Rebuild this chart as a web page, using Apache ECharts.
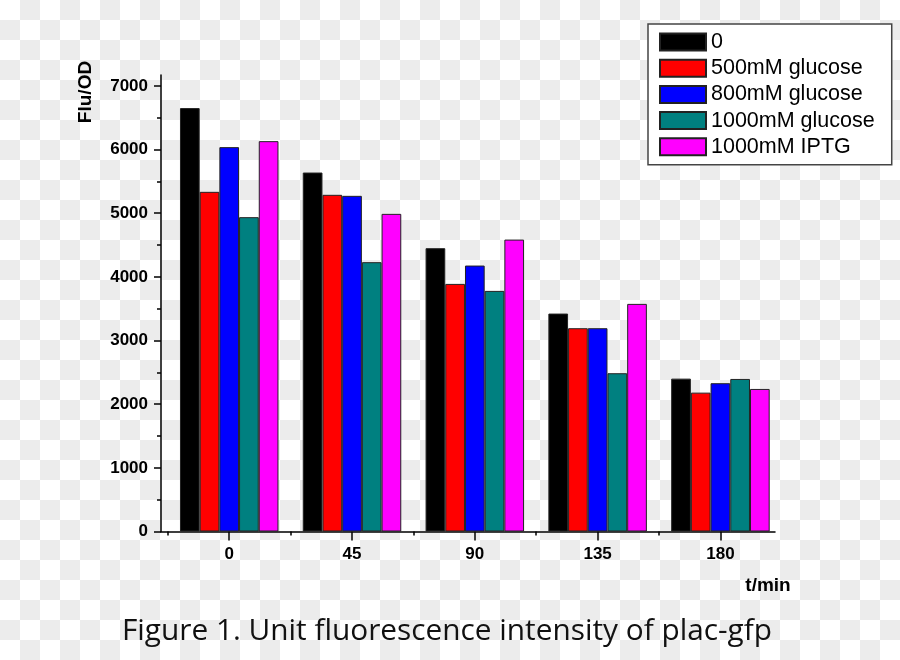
<!DOCTYPE html>
<html>
<head>
<meta charset="utf-8">
<script src="https://cdn.jsdelivr.net/npm/echarts@6/dist/echarts.min.js"></script>
<style>
html,body{margin:0;padding:0;}
body{width:900px;height:660px;background:repeating-conic-gradient(#ececec 0% 25%, #ffffff 0% 50%) 0 0/40px 40px;}
#chart{width:900px;height:660px;}
</style>
</head>
<body>
<div id="chart"></div>
<script>
const timePoints = [0, 45, 90, 135, 180];
const seriesNames = ['0', '500mM glucose', '800mM glucose', '1000mM glucose', '1000mM IPTG'];
const control = [6650, 5638, 4450, 3423, 2401];
const glucose500 = [5335, 5288, 3889, 3193, 2181];
const glucose800 = [6037, 5272, 4177, 3193, 2329];
const glucose1000 = [4937, 4230, 3779, 2486, 2396];
const iptg1000 = [6131, 4989, 4585, 3575, 2239];
const yTickValues = [0, 1000, 2000, 3000, 4000, 5000, 6000, 7000];
const yMinorValues = [500, 1500, 2500, 3500, 4500, 5500, 6500];
const xMinorValues = [-22.5, 22.5, 67.5, 112.5, 157.5];
const colors = ['#000000', '#ff0000', '#0000ff', '#008080', '#ff00ff'];

const allValues = [control, glucose500, glucose800, glucose1000, iptg1000];

const chart = echarts.init(document.getElementById('chart'), null, {renderer: 'canvas'});
const labelFont = {fontFamily: 'Liberation Sans', fontWeight: 'bold', fontSize: 17, color: '#000', formatter: v => String(v)};
const option = {
  backgroundColor: 'transparent',
  animation: false,
  grid: {left: 161, right: 125, top: 75, bottom: 128.5},
  legend: {
    orient: 'vertical',
    left: 648, top: 24,
    padding: [7, 17, 7, 11],
    itemWidth: 46, itemHeight: 17, itemGap: 4.2,
    backgroundColor: '#ffffff',
    borderColor: '#444', borderWidth: 1.5, borderRadius: 0,
    icon: 'rect',
    textStyle: {fontFamily: 'Liberation Sans', fontSize: 21.5, color: '#000'},
    data: seriesNames
  },
  xAxis: [
    {
      type: 'value', min: -25, max: 200,
      axisLine: {show: true, onZero: false, lineStyle: {color: '#000', width: 1.5}},
      axisTick: {show: true, customValues: timePoints, length: 9, lineStyle: {color: '#000', width: 1.5}},
      axisLabel: {show: true, customValues: timePoints, margin: 14, ...labelFont},
      splitLine: {show: false}
    },
    {
      type: 'value', min: -25, max: 200, position: 'bottom', offset: 0,
      axisLine: {show: false, onZero: false},
      axisTick: {show: true, customValues: xMinorValues, length: 4, lineStyle: {color: '#000', width: 1.5}},
      axisLabel: {show: false},
      splitLine: {show: false}
    }
  ],
  yAxis: [
    {
      type: 'value', min: 0, max: 7170,
      axisLine: {show: true, onZero: false, lineStyle: {color: '#000', width: 1.5}},
      axisTick: {show: true, customValues: yTickValues, length: 7, lineStyle: {color: '#000', width: 1.5}},
      axisLabel: {show: true, customValues: yTickValues, margin: 13, ...labelFont},
      splitLine: {show: false}
    },
    {
      type: 'value', min: 0, max: 7170, position: 'left', offset: 0,
      axisLine: {show: false, onZero: false},
      axisTick: {show: true, customValues: yMinorValues, length: 4, lineStyle: {color: '#000', width: 1.5}},
      axisLabel: {show: false},
      splitLine: {show: false}
    }
  ],
  series: seriesNames.map((name, k) => ({
    name: name,
    type: 'bar',
    xAxisIndex: 0, yAxisIndex: 0,
    barWidth: 19.7,
    barGap: '0%',
    itemStyle: {color: colors[k], borderColor: '#222', borderWidth: 1},
    data: timePoints.map((t, i) => [t, allValues[k][i]])
  })),
  graphic: [
    {type: 'text', x: 86, y: 92, rotation: Math.PI / 2,
      style: {text: 'Flu/OD', fontFamily: 'Liberation Sans', fontWeight: 'bold', fontSize: 19, fill: '#000', align: 'center', verticalAlign: 'middle'}},
    {type: 'text', x: 768, y: 586,
      style: {text: 't/min', fontFamily: 'Liberation Sans', fontWeight: 'bold', fontSize: 19, fill: '#000', align: 'center', verticalAlign: 'middle'}},
    {type: 'text', x: 447, y: 632,
      style: {text: 'Figure 1. Unit fluorescence intensity of plac-gfp', fontFamily: 'Open Sans', fontSize: 29.8, fill: '#111', align: 'center', verticalAlign: 'middle'}}
  ]
};
chart.setOption(option);
</script>
</body>
</html>
